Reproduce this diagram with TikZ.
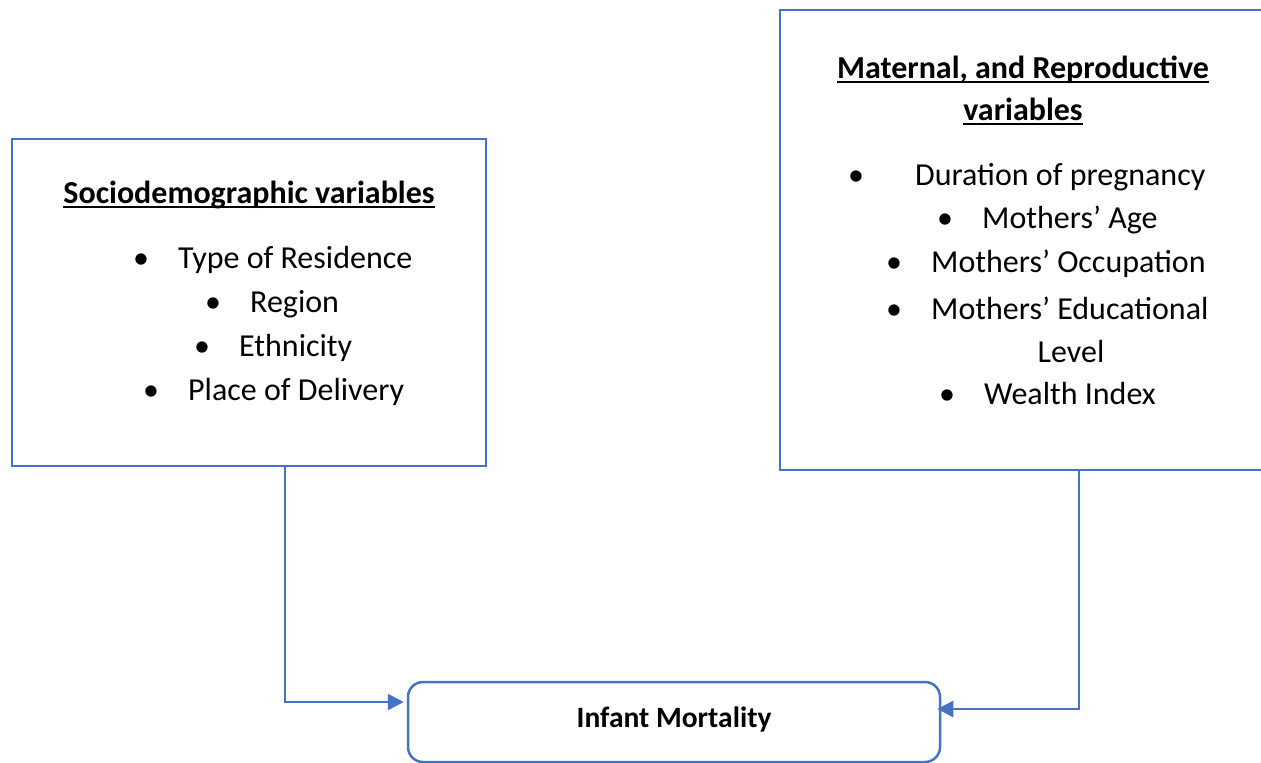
\documentclass[tikz,border=0pt]{standalone}
\usepackage{fontspec}
\setmainfont{Carlito}
\usetikzlibrary{arrows.meta,positioning,calc}
\definecolor{wordblue}{HTML}{4472C4}
\newcommand\wordul[1]{\setbox0\hbox{#1}\rlap{\rule[-4.5pt]{\wd0}{2.2pt}}\box0}
\newcommand\bul{\makebox[45pt][l]{\textbullet}}
\tikzset{
  varbox/.style={draw=wordblue, line width=2.5pt, rectangle, inner sep=0pt},
  outbox/.style={draw=wordblue, line width=2.5pt, rounded corners=15pt, inner sep=0pt},
  vartitle/.style={font=\fontsize{32}{38}\selectfont\bfseries, inner sep=0pt},
  varitem/.style={font=\fontsize{32}{38}\selectfont, inner sep=0pt, anchor=west},
  linkarrow/.style={-{Triangle[length=16pt,width=16pt]}, color=wordblue, line width=2.5pt},
}
\begin{document}
\begin{tikzpicture}[x=1pt, y=-1pt]
  \useasboundingbox (0,0) rectangle (1261,763);
  \clip (0,0) rectangle (1261,763);

  % boxes
  \node[varbox, minimum width=474pt, minimum height=327pt] (socio) at (249,302.5) {};
  \node[varbox, minimum width=490pt, minimum height=460pt] (mater) at (1025,240) {};
  \node[outbox, minimum width=532pt, minimum height=80pt] (infant) at (674,722) {};

  % sociodemographic block
  \node[vartitle] (sociotitle) at (249,195) {\wordul{Sociodemographic variables}};
  \node[varitem] (resid) at (133,260) {\bul Type of Residence};
  \node[varitem] (region) at (205,304) {\bul Region};
  \node[varitem] (ethnic) at (194,348) {\bul Ethnicity};
  \node[varitem] (deliv) at (143,392) {\bul Place of Delivery};

  % maternal block
  \node[vartitle] (matertitle) at (1023,70) {\wordul{Maternal, and Reproductive}};
  \node[vartitle] (matertitleb) at (1023,112) {\wordul{variables}};
  \node[varitem] (durat) at (848,177) {\makebox[67pt][l]{\textbullet}Duration of pregnancy};
  \node[varitem] (age) at (937,220) {\bul Mothers’ Age};
  \node[varitem] (occup) at (886,264) {\bul Mothers’ Occupation};
  \node[varitem] (educ) at (886,308) {\bul Mothers’ Educational};
  \node[varitem, anchor=center] (level) at (1071,351) {Level};
  \node[varitem] (wealth) at (939,394) {\bul Wealth Index};

  % outcome
  \node[vartitle, font=\fontsize{29.5}{35}\selectfont\bfseries] (infanttext) at (674,719) {Infant Mortality};

  % links
  \draw[linkarrow, shorten >=3pt] ([xshift=36pt]socio.south) |- ([yshift=20pt]infant.west);
  \draw[linkarrow, shorten >=-4pt] ([xshift=54pt]mater.south) |- ([yshift=13pt]infant.east);
\end{tikzpicture}
\end{document}
